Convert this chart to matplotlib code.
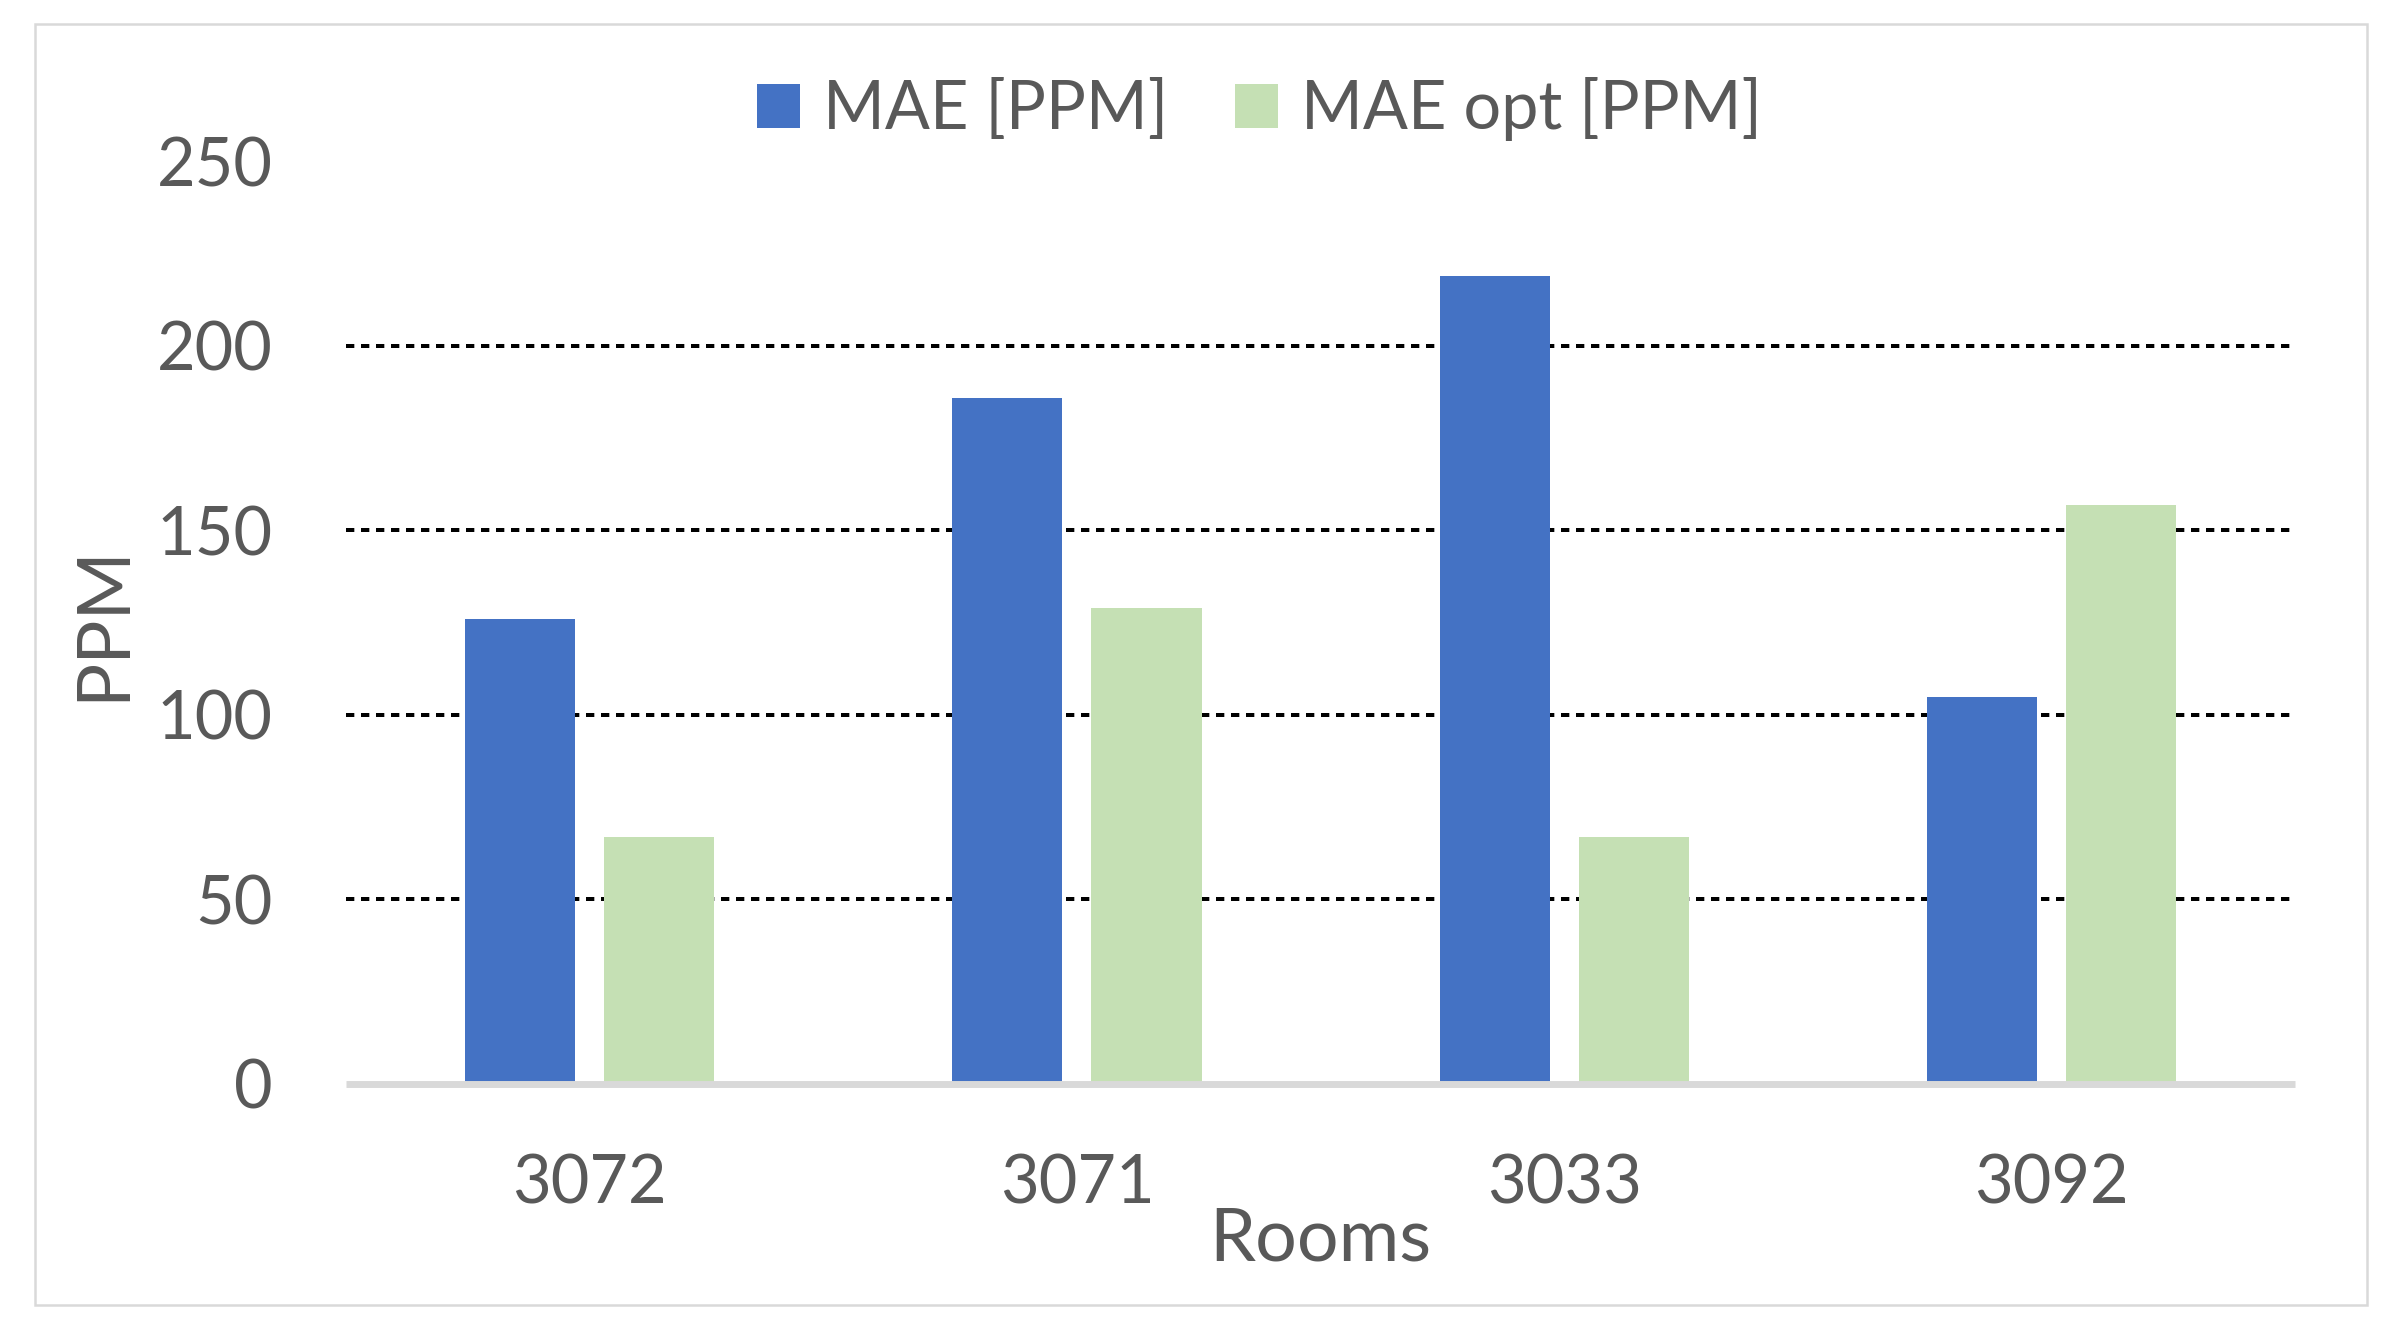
import numpy as np
import matplotlib
matplotlib.use("Agg")
import matplotlib.pyplot as plt
from matplotlib.patches import Rectangle

rooms = ["3072", "3071", "3033", "3092"]
mae = [126, 186, 219, 105]
mae_opt = [67, 129, 67, 157]
series_names = ["MAE [PPM]", "MAE opt [PPM]"]
y_ticks = [0, 50, 100, 150, 200, 250]

blue = "#4472c4"
green = "#c5e0b4"
grey_text = "#595959"
light_grey = "#d9d9d9"

plt.rcParams["font.family"] = ["Lato", "DejaVu Sans"]

fig = plt.figure(figsize=(24, 13.32), dpi=100)
ax = fig.add_axes([0.1442, 0.1862, 0.8121, 0.6926])

# outer chart border
fig.patches.append(Rectangle((35 / 2400, 1 - 1305 / 1332), (2367 - 35) / 2400, (1305 - 24) / 1332,
                             transform=fig.transFigure, fill=False,
                             edgecolor=light_grey, linewidth=1.8))

x = np.arange(len(rooms))
w = 0.2258
off = 0.1427
ax.bar(x - off, mae, w, color=blue, label=series_names[0], zorder=2)
ax.bar(x + off, mae_opt, w, color=green, label=series_names[1], zorder=2)

ax.set_xlim(-0.5, len(rooms) - 0.5)
ax.set_ylim(y_ticks[0], y_ticks[-1])
ax.set_yticks(y_ticks)
ax.set_xticks(x)
ax.set_xticklabels(rooms)

# dashed gridlines (none at 0 and at the top)
for yv in y_ticks[1:-1]:
    ax.axhline(yv, color="black", linewidth=2.88, dashes=(2.08, 1.67), zorder=1)
ax.axhline(0, color=light_grey, linewidth=5, zorder=3, clip_on=False,
           solid_capstyle="butt")

for s in ax.spines.values():
    s.set_visible(False)
ax.tick_params(axis="both", length=0, labelsize=48, labelcolor=grey_text)
ax.tick_params(axis="y", pad=53)
ax.tick_params(axis="x", pad=50)

ax.set_xlabel("Rooms", fontsize=53, color=grey_text)
ax.set_ylabel("PPM", fontsize=53, color=grey_text)
ax.xaxis.set_label_coords(0.5, -0.133)
ax.yaxis.set_label_coords(-0.107, 0.5)

fig.legend(loc="center", bbox_to_anchor=(0.5248, 0.918), ncol=2, frameon=False,
           fontsize=48, labelcolor=grey_text, handlelength=0.65, handleheight=0.65,
           handletextpad=0.34, columnspacing=1.0, borderpad=0)

fig.savefig("out.png", dpi=100, facecolor="white")
